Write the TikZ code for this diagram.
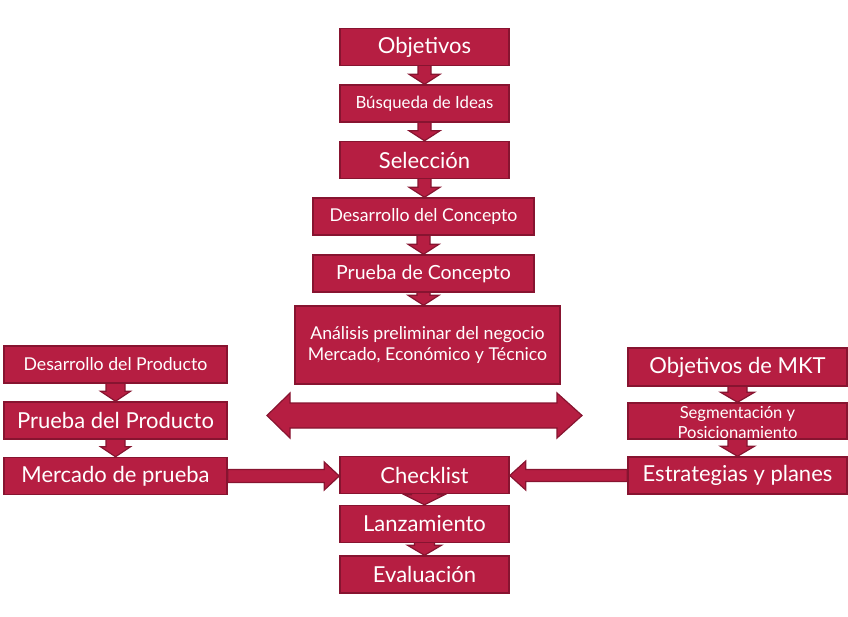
\documentclass[tikz,border=0pt]{standalone}
\usepackage{fontspec}
\setmainfont{Lato}
\usepackage{tikz}
\usetikzlibrary{calc,backgrounds}

\definecolor{carmin}{RGB}{182,30,66}
\definecolor{carminosc}{RGB}{135,20,48}

\tikzset{
  caja/.style={rectangle, fill=carmin, draw=carminosc, line width=1.5pt, text=white,
    inner sep=0pt, align=center},
  grande/.style={font=\fontsize{22}{24}\selectfont},
  mediana/.style={font=\fontsize{19.5}{21}\selectfont},
  chica/.style={font=\fontsize{17.7}{21}\selectfont},
  flecha/.style={fill=carmin, draw=carminosc, line width=1.2pt, line join=miter}
}

% flecha de bloque vertical: origen, destino, medio ancho del cuerpo, medio ancho de la punta
\newcommand{\flechav}[4]{%
  \path let \p1=(#1.south), \p2=(#2.north) in
    [flecha] ({\x1-#3pt},{\y1+1pt}) -- ({\x1+#3pt},{\y1+1pt}) -- ({\x1+#3pt},{\y2+10pt})
    -- ({\x1+#4pt},{\y2+10pt}) -- (\x1,\y2) -- ({\x1-#4pt},{\y2+10pt})
    -- ({\x1-#3pt},{\y2+10pt}) -- cycle;}

% flecha de bloque horizontal: origen, destino, medio ancho del cuerpo, medio ancho de la punta, largo de la punta
\newcommand{\flechah}[5]{%
  \path let \p1=(#1), \p2=(#2) in
    [flecha] (\x1,{\y1-#3pt}) -- ({\x2-(#5pt)},{\y1-#3pt}) -- ({\x2-(#5pt)},{\y1-#4pt})
    -- (\x2,\y1) -- ({\x2-(#5pt)},{\y1+#4pt}) -- ({\x2-(#5pt)},{\y1+#3pt})
    -- (\x1,{\y1+#3pt}) -- cycle;}

\begin{document}
\begin{tikzpicture}[x=1pt, y=-1pt]
	\useasboundingbox (0,0) rectangle (848,616);

		% columna central
		\node[caja, grande, minimum width=169pt, minimum height=37pt] (obj) at (424.5, 47) {Objetivos};
		\node[caja, font=\fontsize{16.8}{20}\selectfont, minimum width=169pt, minimum height=37pt] (bus) at (424.5, 103.5) {Búsqueda de Ideas};
		\node[caja, grande, minimum width=169pt, minimum height=37pt] (sel) at (424.5, 160) {Selección};
		\node[caja, chica, minimum width=221pt, minimum height=37pt] (desc) at (423.5, 216.5) {Desarrollo del Concepto};
		\node[caja, mediana, minimum width=221pt, minimum height=37pt] (pruc) at (423.5, 273.5) {Prueba de Concepto};
		\node[caja, chica, minimum width=265pt, minimum height=78pt] (ana) at (427.5, 345) {Análisis preliminar del negocio\\Mercado, Económico y Técnico};
		\node[caja, grande, minimum width=169pt, minimum height=37pt] (chk) at (424.5, 475) {Checklist};
		\node[caja, grande, minimum width=169pt, minimum height=37pt] (lanz) at (424.5, 524) {Lanzamiento};
		\node[caja, grande, minimum width=169pt, minimum height=37pt] (eval) at (424.5, 574.5) {Evaluación};

		% columna izquierda
		\node[caja, chica, minimum width=223pt, minimum height=37pt] (dprod) at (115.5, 364.5) {Desarrollo del Producto};
		\node[caja, grande, minimum width=223pt, minimum height=37pt] (pprod) at (115.5, 420.5) {Prueba del Producto};
		\node[caja, grande, minimum width=223pt, minimum height=37pt] (mprue) at (115.5, 476) {Mercado de prueba};

		% columna derecha
		\node[caja, grande, minimum width=219pt, minimum height=38pt] (omkt) at (737.5, 367) {Objetivos de MKT};
		\node[caja, font=\fontsize{16.6}{21}\selectfont, minimum width=219pt, minimum height=36pt] (seg) at (737.5, 421) {\raisebox{-17pt}[0pt][0pt]{\shortstack{Segmentación y\\[1pt]Posicionamiento}}};
		\node[caja, grande, minimum width=219pt, minimum height=37pt] (estr) at (737.5, 475.5) {Estrategias y planes};

		\begin{scope}[on background layer]
		% flechas verticales
		\flechav{obj}{bus}{6.5}{15.5}
		\flechav{bus}{sel}{6.5}{15.5}
		\flechav{sel}{desc}{6.5}{15.5}
		\flechav{desc}{pruc}{6.5}{15.5}
		\flechav{pruc}{ana}{6.5}{15.5}
		\flechav{chk}{lanz}{13}{20}
		\flechav{lanz}{eval}{10}{17}
		\flechav{dprod}{pprod}{9.5}{15}
		\flechav{pprod}{mprue}{9.5}{15}
		\flechav{omkt}{seg}{9.5}{17}
		\flechav{seg}{estr}{9.5}{17}

		% flechas horizontales
		\flechah{mprue.east}{chk.west}{6.5}{14}{15}
		\flechah{estr.west}{chk.east}{6}{14.5}{-16}
		\end{scope}

		% flecha doble
		\draw[flecha] (267,415.5) -- (290,393) -- (290,403) -- (557,403) -- (557,393) -- (582,415.5)
			-- (557,438) -- (557,428) -- (290,428) -- (290,438) -- cycle;
	\end{tikzpicture}
\end{document}
